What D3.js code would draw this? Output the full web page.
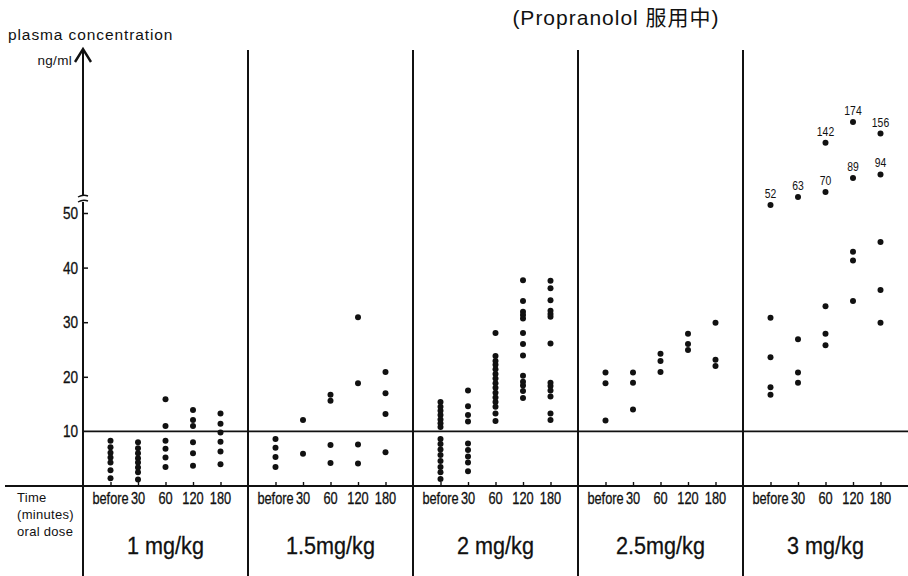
<!DOCTYPE html>
<html>
<head>
<meta charset="utf-8">
<script src="https://cdn.jsdelivr.net/npm/d3@7"></script>
<style>
  body { margin: 0; background: #fff; }
  svg text { fill: #111; font-family: "Liberation Sans", Arial, sans-serif; }
</style>
</head>
<body>
<div id="chart"></div>
<script>
//data (ng/ml), one list per dose, one sub-list per time
var doses = ["1 mg/kg", "1.5mg/kg", "2 mg/kg", "2.5mg/kg", "3 mg/kg"];
var times = ["before", "30", "60", "120", "180"];
var yTicks = [10, 20, 30, 40, 50];

var dose1 = [
  [8.3, 7.1, 6.1, 5.2, 4.3, 2.9, 1.4],
  [8.0, 6.9, 6.0, 5.1, 4.3, 3.4, 2.5, 1.2],
  [15.9, 11.0, 8.3, 6.8, 5.2, 3.5],
  [13.9, 12.1, 11.0, 8.0, 6.0, 3.7],
  [13.3, 11.4, 9.8, 8.1, 6.3, 4.0]
];
var dose15 = [
  [8.6, 7.0, 5.3, 3.5],
  [12.1, 5.9],
  [16.7, 15.6, 7.5, 4.2],
  [30.9, 18.8, 7.6, 4.1],
  [20.9, 17.0, 13.2, 6.2]
];
var dose2 = [
  [15.4, 14.5, 13.8, 13.0, 12.2, 11.5, 10.8, 8.6, 7.7, 6.7, 5.7, 4.6, 3.5, 2.5, 1.3],
  [17.5, 14.6, 13.0, 11.8, 7.8, 6.6, 5.4, 4.3, 2.7],
  [28.0, 23.8, 22.9, 22.2, 21.4, 20.5, 19.7, 18.8, 18.0, 17.1, 16.2, 15.4, 14.5, 13.3, 11.9],
  [37.7, 33.9, 31.9, 31.3, 30.7, 28.0, 26.0, 23.9, 20.2, 19.1, 18.4, 17.4, 16.1],
  [37.6, 36.2, 34.0, 32.1, 31.5, 31.0, 26.1, 18.9, 18.3, 17.5, 16.4, 13.3, 12.1]
];
var dose25 = [
  [20.8, 18.8, 12.0],
  [20.8, 18.9, 14.0],
  [24.2, 22.9, 20.9],
  [27.9, 26.0, 24.9],
  [29.9, 23.1, 22.0]
];
var dose3 = [
  [52, 30.8, 23.6, 18.1, 16.7],
  [63, 26.9, 20.8, 18.9],
  [142, 70, 32.9, 27.9, 25.8],
  [174, 89, 42.9, 41.3, 33.9],
  [156, 94, 44.7, 35.9, 29.9]
];
var doseValues = [dose1, dose15, dose2, dose25, dose3];

//size
var svg_w = 908;
var svg_h = 576;
var left = 83, right = 908, base = 486;

var svg = d3.select("#chart")
  .append("svg")
  .attr("width", svg_w)
  .attr("height", svg_h);

//condensed look: squeeze text horizontally around its anchor
function squeeze(x, y, sx) {
  return "translate(" + x + "," + y + ") scale(" + sx + ",1)";
}

//scales: panels by dose, points by time, broken y axis above 50
var xPanel = d3.scaleBand()
  .domain(doses)
  .range([left, right]);

var xTime = d3.scalePoint()
  .domain(times)
  .range([0, xPanel.bandwidth()])
  .padding(1);

var yScale = d3.scaleLinear()
  .domain([0, 50, 52, 100, 180])
  .range([base, 213, 205, 170, 118]);

//flatten data
var points = [];
doseValues.forEach(function(arr, di) {
  arr.forEach(function(vals, ti) {
    vals.forEach(function(v) {
      points.push({dose: doses[di], time: times[ti], value: v});
    });
  });
});

//grid lines: baseline, 10 line, panel dividers
svg.append("line")
  .attr("x1", 5).attr("x2", right)
  .attr("y1", base).attr("y2", base)
  .attr("stroke", "#111").attr("stroke-width", 2);

svg.append("line")
  .attr("x1", left).attr("x2", right)
  .attr("y1", yScale(10)).attr("y2", yScale(10))
  .attr("stroke", "#111").attr("stroke-width", 1.6);

svg.selectAll(".divider")
  .data(doses.slice(1))
  .enter()
  .append("line")
  .attr("class", "divider")
  .attr("x1", function(d) { return xPanel(d); })
  .attr("x2", function(d) { return xPanel(d); })
  .attr("y1", 50).attr("y2", svg_h)
  .attr("stroke", "#111").attr("stroke-width", 2);

//y axis with break and arrow
var ax = svg.append("g").attr("stroke", "#111").attr("fill", "none");
ax.append("line")
  .attr("x1", left).attr("x2", left)
  .attr("y1", 50).attr("y2", 196)
  .attr("stroke-width", 2);
ax.append("line")
  .attr("x1", left).attr("x2", left)
  .attr("y1", 202).attr("y2", svg_h)
  .attr("stroke-width", 2);
ax.append("path")
  .attr("d", "M" + (left - 8) + ",62L" + left + ",49L" + (left + 8) + ",62")
  .attr("stroke-width", 2.4);
ax.append("path")
  .attr("d", "M" + (left - 5) + ",197Q" + left + ",194 " + (left + 5) + ",196")
  .attr("stroke-width", 1.4);
ax.append("path")
  .attr("d", "M" + (left - 5) + ",202Q" + left + ",199 " + (left + 5) + ",201")
  .attr("stroke-width", 1.4);

var yAxis = svg.append("g")
  .attr("transform", "translate(" + left + ",0)")
  .call(d3.axisRight(yScale).tickValues(yTicks.filter(function(d) { return d != 10; }))
    .tickSize(5).tickFormat(""));
yAxis.select(".domain").remove();
yAxis.selectAll("line").attr("stroke", "#111").attr("stroke-width", 1.5);

svg.selectAll(".ylab")
  .data(yTicks)
  .enter()
  .append("text")
  .attr("class", "ylab")
  .attr("transform", function(d) { return squeeze(left - 5, yScale(d) + 6, 0.85); })
  .attr("text-anchor", "end")
  .attr("font-size", 16)
  .attr("stroke", "#111").attr("stroke-width", 0.3)
  .text(function(d) { return d; });

//time ticks and labels in each panel
doses.forEach(function(dose) {
  var g = svg.append("g")
    .attr("transform", "translate(" + xPanel(dose) + "," + base + ")");
  var axis = g.call(d3.axisTop(xTime).tickSize(4).tickFormat(""));
  axis.select(".domain").remove();
  axis.selectAll("line").attr("stroke", "#111").attr("stroke-width", 1.4);

  g.selectAll(".tlab")
    .data(times)
    .enter()
    .append("text")
    .attr("transform", function(d) { return squeeze(xTime(d), 18, 0.8); })
    .attr("text-anchor", "middle")
    .attr("font-size", 16)
    .attr("stroke", "#111").attr("stroke-width", 0.3)
    .text(function(d) { return d; });

  g.append("text")
    .attr("transform", squeeze(xPanel.bandwidth() / 2, 68, 0.9))
    .attr("text-anchor", "middle")
    .attr("font-size", 24)
    .attr("stroke", "#111").attr("stroke-width", 0.3)
    .text(dose);
});

//dots
svg.selectAll(".dot")
  .data(points)
  .enter()
  .append("circle")
  .attr("class", "dot")
  .attr("cx", function(d) { return xPanel(d.dose) + xTime(d.time); })
  .attr("cy", function(d) { return yScale(d.value); })
  .attr("r", 3)
  .attr("fill", "#111");

//value labels above the break
svg.selectAll(".vlab")
  .data(points.filter(function(d) { return d.value > 50; }))
  .enter()
  .append("text")
  .attr("class", "vlab")
  .attr("transform", function(d) {
    return squeeze(xPanel(d.dose) + xTime(d.time), yScale(d.value) - 7, 0.8);
  })
  .attr("text-anchor", "middle")
  .attr("font-size", 13)
  .text(function(d) { return d.value; });

//titles and side labels
svg.append("text")
  .attr("x", 8).attr("y", 40)
  .attr("font-size", 15.5)
  .attr("letter-spacing", 0.9)
  .text("plasma concentration");

svg.append("text")
  .attr("x", 72).attr("y", 65)
  .attr("text-anchor", "end")
  .attr("font-size", 13.5)
  .attr("letter-spacing", 0.3)
  .text("ng/ml");

svg.append("text")
  .attr("x", 616).attr("y", 25)
  .attr("text-anchor", "middle")
  .attr("font-size", 21)
  .attr("letter-spacing", 1)
  .style("font-family", "'Liberation Sans', 'Noto Sans CJK JP', sans-serif")
  .text("(Propranolol 服用中)");

svg.selectAll(".side")
  .data(["Time", "(minutes)", "oral dose"])
  .enter()
  .append("text")
  .attr("class", "side")
  .attr("x", 17)
  .attr("y", function(d, i) { return 502 + i * 17; })
  .attr("font-size", 13)
  .attr("letter-spacing", 0.3)
  .text(function(d) { return d; });
</script>
</body>
</html>
